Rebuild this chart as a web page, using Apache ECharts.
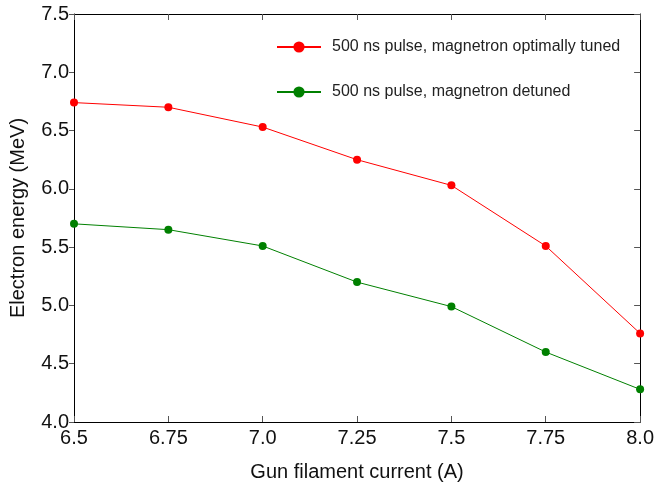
<!DOCTYPE html>
<html>
<head>
<meta charset="utf-8">
<script src="https://cdn.jsdelivr.net/npm/echarts@6/dist/echarts.min.js"></script>
<style>
  html, body { margin: 0; padding: 0; background: #fff; }
  #chart { width: 657px; height: 488px; }
</style>
</head>
<body>
<div id="chart"></div>
<script>
// gun filament current (A)
const current = [6.5, 6.75, 7.0, 7.25, 7.5, 7.75, 8.0];
const xTickLabels = ['6.5', '6.75', '7.0', '7.25', '7.5', '7.75', '8.0'];
// electron energy (MeV)
const tunedEnergy = [6.74, 6.70, 6.53, 6.25, 6.03, 5.51, 4.76];
const detunedEnergy = [5.70, 5.65, 5.51, 5.20, 4.99, 4.60, 4.28];
const tunedName = '500 ns pulse, magnetron optimally tuned';
const detunedName = '500 ns pulse, magnetron detuned';

const font = 'Liberation Sans, Arial, sans-serif';

function pairs(xs, ys) {
  return xs.map((x, i) => [x, ys[i]]);
}

let chart = echarts.init(document.getElementById('chart'));
chart.setOption({
  animation: false,
  textStyle: { fontFamily: font },
  grid: { left: 72, right: 7, top: 14, bottom: 66 },
  legend: {
    orient: 'vertical',
    left: 271,
    top: 34,
    itemWidth: 44,
    itemHeight: 14,
    itemGap: 29,
    textStyle: { fontSize: 16, color: '#222', fontFamily: font, padding: [0, 0, 0, 6] },
    data: [tunedName, detunedName]
  },
  xAxis: [{
    type: 'value',
    min: 6.5,
    max: 8.0,
    interval: 0.25,
    name: 'Gun filament current (A)',
    nameLocation: 'middle',
    nameGap: 40,
    nameTextStyle: { fontSize: 20, color: '#111', fontFamily: font },
    axisLine: { lineStyle: { color: '#000', width: 1 } },
    axisTick: { inside: true, length: 6, lineStyle: { color: '#555' } },
    axisLabel: {
      fontSize: 20, color: '#111', margin: 6, fontFamily: font,
      formatter: v => xTickLabels[Math.round((v - 6.5) / 0.25)]
    },
    splitLine: { show: false }
  }, {
    type: 'value',
    position: 'top',
    min: 6.5,
    max: 8.0,
    interval: 0.25,
    axisLine: { lineStyle: { color: '#000', width: 1 } },
    axisTick: { inside: true, length: 6, lineStyle: { color: '#555' } },
    axisLabel: { show: false },
    splitLine: { show: false }
  }],
  yAxis: [{
    type: 'value',
    min: 4.0,
    max: 7.5,
    interval: 0.5,
    name: 'Electron energy (MeV)',
    nameLocation: 'middle',
    nameGap: 46,
    nameTextStyle: { fontSize: 20, color: '#111', fontFamily: font },
    axisLine: { show: true, lineStyle: { color: '#000', width: 1 } },
    axisTick: { show: true, length: 5, lineStyle: { color: '#555' } },
    axisLabel: {
      fontSize: 20, color: '#111', margin: 5, fontFamily: font,
      formatter: v => v.toFixed(1)
    },
    splitLine: { show: false }
  }, {
    type: 'value',
    position: 'right',
    min: 4.0,
    max: 7.5,
    interval: 0.5,
    axisLine: { show: true, lineStyle: { color: '#000', width: 1 } },
    axisTick: { show: true, inside: true, length: 6, lineStyle: { color: '#555' } },
    axisLabel: { show: false },
    splitLine: { show: false }
  }],
  series: [{
    name: tunedName,
    type: 'line',
    data: pairs(current, tunedEnergy),
    symbol: 'circle',
    symbolSize: 8,
    itemStyle: { color: '#ff0000' },
    lineStyle: { color: '#ff0000', width: 1 }
  }, {
    name: detunedName,
    type: 'line',
    data: pairs(current, detunedEnergy),
    symbol: 'circle',
    symbolSize: 8,
    itemStyle: { color: '#008000' },
    lineStyle: { color: '#008000', width: 1 }
  }]
});
</script>
</body>
</html>
